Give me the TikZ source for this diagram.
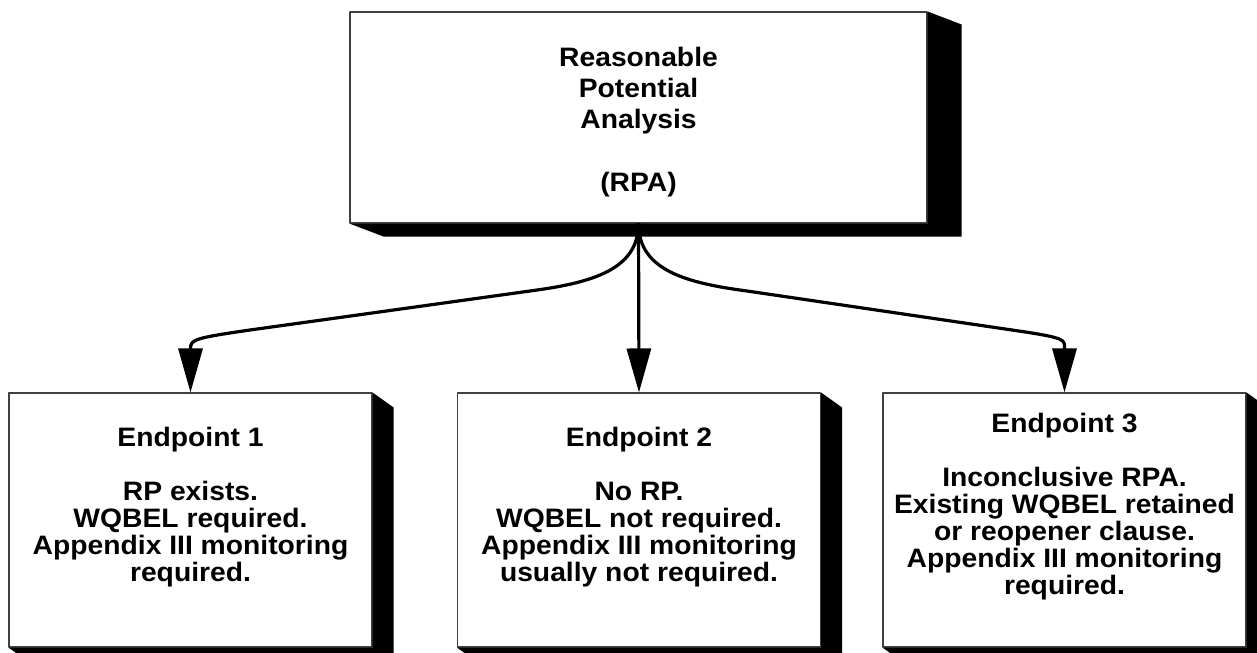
\documentclass[tikz,border=0pt]{standalone}
\usepackage{fontspec}
\setmainfont{Liberation Sans}[FakeStretch=1.06]
\usepackage{tikz}
\usetikzlibrary{arrows.meta,positioning,calc}

% black extruded shadow to the lower right of a box node: #1 node, #2 dx, #3 dy
\newcommand{\dropshade}[3]{%
  \fill (#1.south west) -- ++(#2,-#3) -- ($(#1.south east)+(#2,-#3)$)
    -- ($(#1.north east)+(#2,-#3)$) -- (#1.north east) -- (#1.south east) -- cycle;}

\begin{document}
\begin{tikzpicture}[x=0.75pt,y=0.75pt,line join=round,
  flowbox/.style={draw=black!75,line width=0.8pt,fill=white,inner sep=0pt},
  boxtext/.style={align=center,inner sep=0pt,font=\bfseries\fontsize{20}{20.25}\selectfont},
  rpatext/.style={align=center,inner sep=0pt,font=\bfseries\fontsize{20}{23.5}\selectfont},
  link/.style={line width=2.4pt,-{Triangle[length=33pt,width=18pt]}}]
\useasboundingbox (0,0) rectangle (1257,-653);
% analysis box on top, three endpoints below
\node[flowbox,minimum width=432.75pt,minimum height=158.25pt] (rpa) at (638.5,-117.5) {};
\node[flowbox,minimum width=272.25pt,minimum height=190.5pt] (ep1) at (190.5,-520) {};
\node[flowbox,minimum width=272.25pt,minimum height=190.5pt] (ep2) at (639,-520) {};
\node[flowbox,minimum width=272.25pt,minimum height=190.5pt] (ep3) at (1064.5,-520) {};
\node[rpatext] (rpatxt) at ($(rpa)+(0,-4.5)$) {Reasonable\\Potential\\Analysis\\~\\(RPA)};
\node[boxtext] (ep1txt) at ($(ep1)+(0,13)$)
  {Endpoint 1\\~\\RP exists.\\WQBEL required.\\Appendix III monitoring\\required.};
\node[boxtext] (ep2txt) at ($(ep2)+(0,13)$)
  {Endpoint 2\\~\\No RP.\\WQBEL not required.\\Appendix III monitoring\\usually not required.};
\node[boxtext] (ep3txt) at ($(ep3)+(0,13)$)
  {Endpoint 3\\~\\Inconclusive RPA.\\Existing WQBEL retained\\or reopener clause.\\Appendix III monitoring\\required.};
% branches out of the bottom of the analysis box
\draw[link] (rpa.south) .. controls +(0,-47) and +(60,8) .. (530,-291) -- (250,-330)
  .. controls +(-55,-8) and +(0,9) .. ($(ep1.north)+(0,44)$) -- (ep1.north);
\draw[link] (rpa.south) -- (ep2.north);
\draw[link] (rpa.south) .. controls +(0,-47) and +(-60,8) .. (747,-291) -- (1012,-330)
  .. controls +(55,-8) and +(0,9) .. ($(ep3.north)+(0,44)$) -- (ep3.north);
% shadows last, they hide the top of the branches
\dropshade{rpa}{34}{13}
\foreach \b in {ep1,ep2,ep3}{\dropshade{\b}{21}{15}}
\end{tikzpicture}
\end{document}
